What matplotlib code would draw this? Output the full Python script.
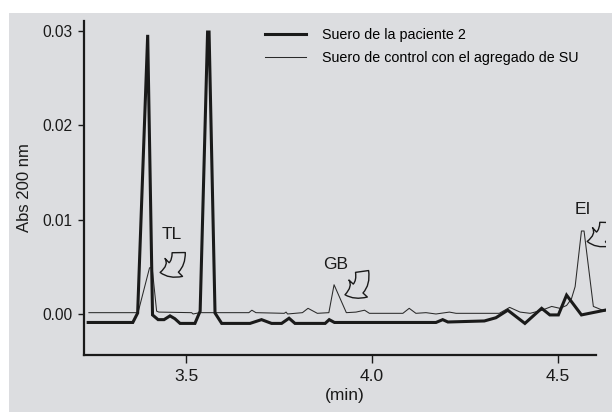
import matplotlib
matplotlib.use("Agg")
import matplotlib.pyplot as plt
from matplotlib.patches import Rectangle, FancyArrowPatch

plt.rcParams['font.family'] = ['Liberation Sans', 'DejaVu Sans']

# retention time (min) / absorbance, patient serum 2 (thick trace)
x_paciente = [3.237, 3.357, 3.370, 3.397, 3.410, 3.425, 3.441, 3.457, 3.470, 3.484,
              3.524, 3.538, 3.558, 3.562, 3.578, 3.596, 3.672, 3.703, 3.730, 3.757,
              3.777, 3.793, 3.874, 3.885, 3.899, 4.172, 4.190, 4.204, 4.302, 4.333,
              4.365, 4.411, 4.456, 4.478, 4.501, 4.523, 4.563, 4.593, 4.626]
y_paciente = [-0.0009, -0.0009, 0.0001, 0.0296, -0.0001, -0.0006, -0.0006, -0.0002, -0.0005, -0.0010,
              -0.0010, 0.0003, 0.0299, 0.0299, 0.0001, -0.0010, -0.0010, -0.0006, -0.0010, -0.0010,
              -0.00045, -0.0010, -0.0010, -0.0006, -0.0009, -0.0009, -0.0006, -0.00085, -0.00074, -0.0004,
              0.0004, -0.0010, 0.0006, -0.0001, -0.0001, 0.0020, -0.0001, 0.00014, 0.0004]

# control serum spiked with SU (thin trace)
x_control = [3.239, 3.371, 3.402, 3.409, 3.421, 3.427, 3.515, 3.519, 3.537, 3.566,
             3.669, 3.677, 3.688, 3.764, 3.769, 3.773, 3.813, 3.828, 3.853, 3.884,
             3.898, 3.931, 3.957, 3.980, 3.993, 4.083, 4.100, 4.118, 4.145, 4.172,
             4.208, 4.226, 4.342, 4.370, 4.398, 4.425, 4.457, 4.483, 4.505, 4.523,
             4.536, 4.546, 4.563, 4.570, 4.595, 4.626]
y_control = [0.00014, 0.00014, 0.0049, 0.0049, 0.0003, 0.0002, 0.00014, 0.0, 0.00014, 0.00014,
             0.00014, 0.0004, 0.00014, 0.00007, 0.0002, 0.0, 0.00014, 0.0006, 0.00007, 0.00014,
             0.0031, 0.00014, 0.0002, 0.0004, 0.00007, 0.00007, 0.0006, 0.00007, 0.00014, 0.0,
             0.0002, 0.00007, 0.00007, 0.0007, 0.0002, 0.00007, 0.0004, 0.0008, 0.0006, 0.0009,
             0.0016, 0.0029, 0.0088, 0.0088, 0.0008, 0.0003]

series_labels = ["Suero de la paciente 2", "Suero de control con el agregado de SU"]

# peak labels: text, text position, arrow tail, arrow tip
peak_names = ["TL", "GB", "EI"]
peak_text_xy = [(3.462, 0.0084), (3.903, 0.0052), (4.566, 0.0111)]
peak_arrow_from = [(3.480, 0.0068), (3.972, 0.0048), (4.630, 0.0100)]
peak_arrow_to = [(3.423, 0.0044), (3.920, 0.0020), (4.571, 0.0077)]

x_ticks = [3.5, 4.0, 4.5]
y_ticks = [0.0, 0.01, 0.02, 0.03]

BG = "#dcdde0"
INK = "#1a1a1a"

fig = plt.figure(figsize=(6.12, 4.12), dpi=100, facecolor="white")
fig.patches.append(Rectangle((9 / 612, 0), 1, 1 - 13 / 412, transform=fig.transFigure,
                             facecolor=BG, edgecolor="none", zorder=-10))

ax = fig.add_axes([84 / 612, 1 - 355 / 412, 522 / 612, 334 / 412])
ax.set_facecolor("none")

ax.plot(x_paciente, y_paciente, color=INK, lw=2.2, label=series_labels[0],
        solid_joinstyle="miter", zorder=3)
ax.plot(x_control, y_control, color="#2a2a2a", lw=0.75, label=series_labels[1], zorder=2)

ax.set_xlim(3.2258, 4.629)
ax.set_ylim(-0.00435, 0.03107)

for s in ["top", "right"]:
    ax.spines[s].set_visible(False)
for s in ["left", "bottom"]:
    ax.spines[s].set_linewidth(1.6)
    ax.spines[s].set_color(INK)
ax.spines["bottom"].set_bounds(3.2258, 4.602)

ax.set_xticks(x_ticks)
ax.set_xticklabels(["%.1f" % v for v in x_ticks], fontsize=12.5)
ax.set_yticks(y_ticks)
ax.set_yticklabels(["%.2f" % v for v in y_ticks], fontsize=11.2)
ax.tick_params(axis="x", length=6, width=1, pad=4, colors=INK)
ax.tick_params(axis="y", length=4.5, width=1, pad=4, colors=INK)

ax.set_xlabel("(min)", fontsize=12.5, labelpad=3, color=INK)
ax.set_ylabel("Abs 200 nm", fontsize=12, labelpad=7, color=INK)

for name, txy, a0, a1 in zip(peak_names, peak_text_xy, peak_arrow_from, peak_arrow_to):
    ax.text(txy[0], txy[1], name, fontsize=12.5, ha="center", va="center", color=INK)
    arr = FancyArrowPatch(a0, a1, arrowstyle="simple,head_length=0.55,head_width=0.95,tail_width=0.5",
                          connectionstyle="arc3,rad=-0.55", mutation_scale=19,
                          facecolor=BG, edgecolor=INK, lw=1.0, zorder=4)
    ax.add_patch(arr)

leg = ax.legend(loc="upper left", bbox_to_anchor=(0.347, 0.979), frameon=False,
                fontsize=10.3, handlelength=2.87, handletextpad=1.1, labelspacing=0.6,
                borderpad=0, borderaxespad=0)

fig.savefig("out.png", dpi=100, facecolor="white")
